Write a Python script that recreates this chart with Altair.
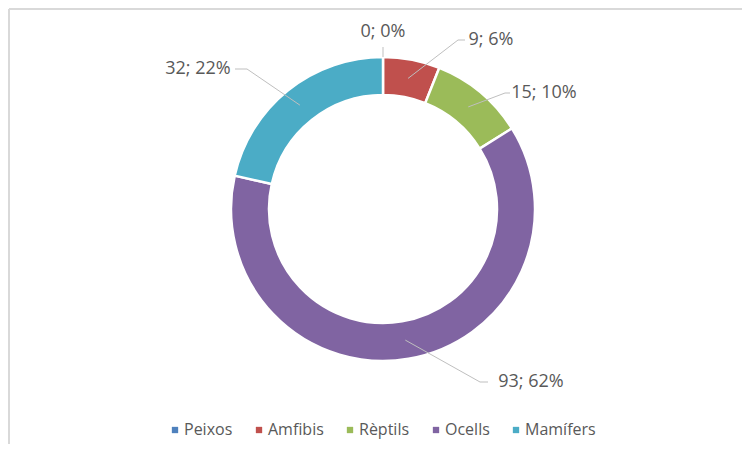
import math
import altair as alt
import pandas as pd

# ---- data ----
categories = ["Peixos", "Amfibis", "Rèptils", "Ocells", "Mamífers"]
values = [0, 9, 15, 93, 32]
percents = [0, 6, 10, 62, 22]
colors = ["#4F81BD", "#C0504D", "#9BBB59", "#8064A2", "#4BACC6"]

# ---- layout (page pixel coordinates) ----
W, H = 734, 436
OFF = 8
CX, CY = 383, 209
R_OUT, R_IN = 152, 114
R_LEAD = 133
label_pos = [(383, 32), (491, 40), (544, 93), (531, 382), (198, 69)]
leader_bends = [((383, 47), (383, 47)), ((458, 40), (465, 40)), ((505, 93), (510, 93)),
                ((480, 382), (488, 382)), ((247, 69), (235, 69))]
FONT = "Open Sans"
TXT = "#595959"

total = sum(values)
rows, lead_rows, lab_rows = [], [], []
cum = 0
for i, (c, v) in enumerate(zip(categories, values)):
    rows.append({"cat": c, "value": v, "idx": i})
    mid = (cum + v / 2) / total * 2 * math.pi
    r = R_LEAD if v > 0 else R_OUT
    sx, sy = CX + r * math.sin(mid), CY - r * math.cos(mid)
    pts = [(sx, sy), leader_bends[i][0], leader_bends[i][1]]
    for k, (px, py) in enumerate(pts):
        lead_rows.append({"cat": c, "k": k, "x": px - OFF, "y": py - OFF})
    lx, ly = label_pos[i]
    lab_rows.append({"cat": c, "x": lx - OFF, "y": ly - OFF,
                     "text": f"{v}; {percents[i]}%"})
    cum += v

df = pd.DataFrame(rows)
lead = pd.DataFrame(lead_rows)
labs = pd.DataFrame(lab_rows)

xs = alt.Scale(domain=[0, W], nice=False, zero=False)
ys = alt.Scale(domain=[0, H], reverse=True, nice=False, zero=False)

arc = alt.Chart(df).mark_arc(innerRadius=R_IN, outerRadius=R_OUT, stroke="white", strokeWidth=2.5).encode(
    theta=alt.Theta("value:Q", stack=True),
    order=alt.Order("idx:Q", sort="ascending"),
    color=alt.Color("cat:N", scale=alt.Scale(domain=categories, range=colors),
                    legend=alt.Legend(title=None, orient="none", direction="horizontal",
                                      legendX=159, legendY=414, symbolType="square",
                                      symbolSize=40, symbolStrokeWidth=0, labelFont=FONT,
                                      labelFontSize=16, labelColor=TXT, columnPadding=18,
                                      labelOffset=1, padding=0)),
    x=alt.value(CX - OFF), y=alt.value(CY - OFF),
)

leaders = alt.Chart(lead).mark_line(color="#BFBFBF", strokeWidth=1).encode(
    x=alt.X("x:Q", scale=xs, axis=None),
    y=alt.Y("y:Q", scale=ys, axis=None),
    detail="cat:N",
    order="k:Q",
)

texts = alt.Chart(labs).mark_text(font=FONT, fontSize=18, color=TXT, align="center", baseline="middle").encode(
    x=alt.X("x:Q", scale=xs, axis=None),
    y=alt.Y("y:Q", scale=ys, axis=None),
    text="text:N",
)

frame_top = alt.Chart(labs).mark_rule(color="#D9D9D9", strokeWidth=2).encode(
    x=alt.value(1), x2=alt.value(W), y=alt.value(1))
frame_left = alt.Chart(labs).mark_rule(color="#D9D9D9", strokeWidth=2).encode(
    x=alt.value(1), y=alt.value(1), y2=alt.value(H))

chart = alt.layer(frame_top, frame_left, arc, leaders, texts).properties(
    width=W, height=H, autosize=alt.AutoSizeParams(type="none"), padding=0,
    background="white",
).configure_view(stroke=None)

chart.save("out.html", embed_options={"renderer": "svg", "actions": False})
